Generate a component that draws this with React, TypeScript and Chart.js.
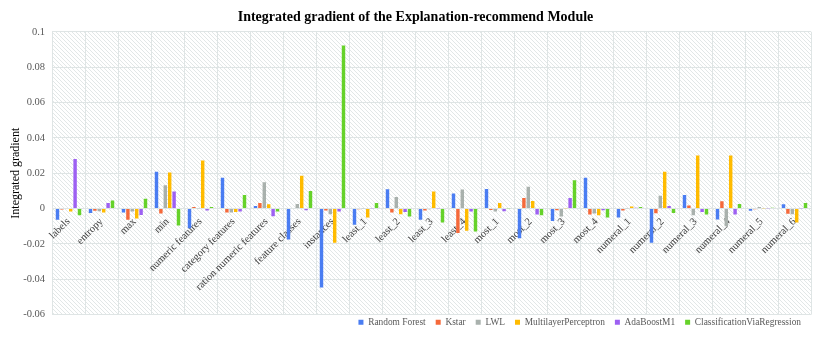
import React, { useEffect, useRef } from "react";
import { Chart, registerables } from "chart.js";

Chart.register(...registerables);

const categories = [
  "labels", "entropy", "max", "min", "numeric features", "category features",
  "ration numeric features", "feature classes", "instances", "least_1", "least_2",
  "least_3", "least_4", "most_1", "most_2", "most_3", "most_4", "numeral_1",
  "numeral_2", "numeral_3", "numeral_4", "numeral_5", "numeral_6",
];

const randomForest = [-0.0064, -0.0025, -0.0023, 0.0208, -0.0112, 0.0174, 0.0015, -0.0175, -0.0447, -0.0091, 0.0109, -0.0064, 0.0085, 0.0111, -0.0168, -0.0070, 0.0174, -0.0051, -0.0194, 0.0077, -0.0062, -0.0013, 0.0025];
const kstar = [-0.0006, -0.0013, -0.0064, -0.0028, 0.0009, -0.0023, 0.0032, 0.0003, -0.0011, -0.0004, -0.0023, -0.0011, -0.0138, -0.0008, 0.0060, -0.0009, -0.0034, -0.0011, -0.0026, 0.0017, 0.0042, -0.0004, -0.0030];
const lwl = [-0.0003, -0.0015, -0.0017, 0.0132, 0.0002, -0.0023, 0.0149, 0.0026, -0.0032, 0.0002, 0.0066, -0.0004, 0.0108, -0.0017, 0.0123, -0.0045, -0.0028, 0.0002, 0.0072, -0.0038, -0.0100, 0.0009, -0.0032];
const multilayerPerceptron = [-0.0017, -0.0023, -0.0057, 0.0204, 0.0272, -0.0019, 0.0025, 0.0185, -0.0194, -0.0051, -0.0032, 0.0096, -0.0125, 0.0032, 0.0043, 0.0002, -0.0038, 0.0011, 0.0208, 0.0300, 0.0300, 0.0001, -0.0079];
const adaBoostM1 = [0.0281, 0.0032, -0.0036, 0.0096, -0.0011, -0.0017, -0.0043, -0.0009, -0.0017, 0.0002, -0.0019, 0.0002, -0.0017, -0.0015, -0.0034, 0.0060, -0.0010, 0.0004, 0.0015, -0.0019, -0.0034, 0.0001, 0.0001];
const classificationViaRegression = [-0.0038, 0.0045, 0.0055, -0.0096, 0.0009, 0.0077, -0.0017, 0.0100, 0.0922, 0.0032, -0.0045, -0.0079, -0.0130, 0.0001, -0.0038, 0.0160, -0.0051, 0.0009, -0.0025, -0.0034, 0.0026, 0.0004, 0.0032];

const seriesNames = ["Random Forest", "Kstar", "LWL", "MultilayerPerceptron", "AdaBoostM1", "ClassificationViaRegression"];
const seriesColors = ["#4a7df2", "#f5693a", "#a9b1ad", "#ffbb00", "#9d60f2", "#66d22a"];
const seriesValues = [randomForest, kstar, lwl, multilayerPerceptron, adaBoostM1, classificationViaRegression];

const yTicks = [-0.06, -0.04, -0.02, 0, 0.02, 0.04, 0.06, 0.08, 0.1];

const SERIF = "'Liberation Serif', 'Times New Roman', serif";
const LEGEND_PAD = 10;

function makePattern(ctx: CanvasRenderingContext2D) {
  const c = document.createElement("canvas");
  c.width = 4;
  c.height = 4;
  const p = c.getContext("2d")!;
  p.fillStyle = "#ffffff";
  p.fillRect(0, 0, 4, 4);
  p.strokeStyle = "#e2e7e7";
  p.lineWidth = 1;
  p.beginPath();
  p.moveTo(0, 0);
  p.lineTo(4, 4);
  p.moveTo(-1, 3);
  p.lineTo(1, 5);
  p.moveTo(3, -1);
  p.lineTo(5, 1);
  p.stroke();
  return ctx.createPattern(c, "repeat");
}

const bgPlugin = {
  id: "hatchBg",
  afterLayout(chart: any) {
    const t = chart.titleBlock;
    if (t) {
      t.left += 10;
      t.right += 10;
    }
    const l = chart.legend;
    if (l) {
      l.top -= 7;
      l.bottom -= 7;
      const lw = l.lineWidths && l.lineWidths.length ? l.lineWidths[0] : 0;
      const right = l.right;
      l.left = right - LEGEND_PAD - lw;
      l.right = right + 8;
    }
  },
  beforeDraw(chart: any) {
    const { ctx, chartArea } = chart;
    if (!chartArea) return;
    ctx.save();
    const pat = makePattern(ctx);
    ctx.fillStyle = pat || "#f4f6f6";
    ctx.fillRect(chartArea.left, chartArea.top, chartArea.right - chartArea.left, chartArea.bottom - chartArea.top);
    ctx.restore();
  },
};

export default function App() {
  const ref = useRef<HTMLCanvasElement | null>(null);

  useEffect(() => {
    if (!ref.current) return;
    const chart = new Chart(ref.current, {
      type: "bar",
      data: {
        labels: categories,
        datasets: seriesNames.map((name, i) => ({
          label: name,
          data: seriesValues[i],
          backgroundColor: seriesColors[i],
          borderWidth: 0,
          barPercentage: 0.78,
          categoryPercentage: 0.8,
        })),
      },
      options: {
        animation: false,
        responsive: false,
        maintainAspectRatio: false,
        layout: { padding: { left: 0, right: 20, top: 0, bottom: -3 } },
        plugins: {
          title: {
            display: true,
            text: "Integrated gradient of the Explanation-recommend Module",
            color: "#000000",
            font: { family: SERIF, size: 14, weight: "bold" },
            padding: { top: 9, bottom: 6 },
          },
          legend: {
            display: true,
            position: "bottom",
            align: "start",
            labels: {
              boxWidth: 5,
              boxHeight: 5,
              color: "#595959",
              font: { family: SERIF, size: 9.4 },
              padding: LEGEND_PAD,
            },
          },
          tooltip: { enabled: false },
        },
        scales: {
          x: {
            type: "category",
            position: { y: 0 } as any,
            grid: { offset: true, color: "#dfe5e5", lineWidth: 1, drawTicks: false },
            border: { display: false },
            ticks: {
              autoSkip: false,
              maxRotation: 45,
              minRotation: 45,
              color: "#404040",
              font: { family: SERIF, size: 10.5 },
              padding: 7,
            },
          },
          y: {
            min: -0.06,
            max: 0.1,
            afterBuildTicks: (scale: any) => {
              scale.ticks = yTicks.map((v) => ({ value: v }));
            },
            afterFit: (scale: any) => {
              scale.width = 52;
            },
            grid: { color: "#dfe5e5", lineWidth: 1, drawTicks: false },
            border: { display: false },
            ticks: {
              color: "#595959",
              font: { family: SERIF, size: 10.5 },
              padding: 7,
              callback: (v: any) => String(Math.round(Number(v) * 100) / 100),
            },
            title: {
              display: true,
              text: "Integrated gradient",
              color: "#000000",
              font: { family: SERIF, size: 12 },
              padding: { top: 9, bottom: 0 },
            },
          },
        },
      },
      plugins: [bgPlugin],
    });
    return () => chart.destroy();
  }, []);

  return (
    <div style={{ position: "fixed", left: 0, top: 0, width: 831, height: 341, background: "#ffffff" }}>
      <canvas ref={ref} width={831} height={341} style={{ width: 831, height: 341, display: "block" }} />
    </div>
  );
}
